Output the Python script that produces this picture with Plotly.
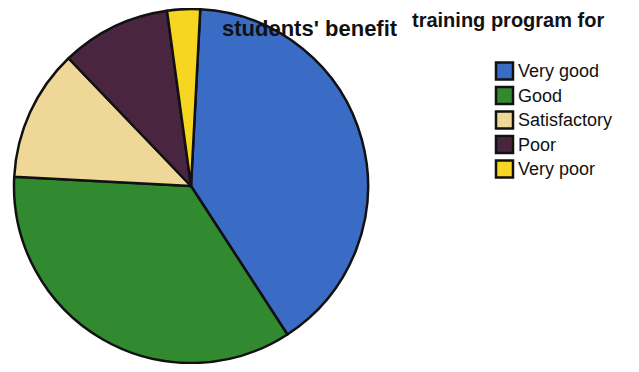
"""Pie chart: rating of the training program for students' benefit."""
import plotly.graph_objects as go

# data
categories = ["Very good", "Good", "Satisfactory", "Poor", "Very poor"]
shares = [40, 35, 12, 10, 3]

COLORS = ["#3a6cc6", "#318a30", "#efd797", "#4a2540", "#f7d622"]
FONT = "Liberation Sans, Arial, sans-serif"

# the page body keeps its default 8px margin, so the figure is drawn
# 8px smaller on each side and positions below are given in window pixels
PAD = 8
W, H = 639 - 2 * PAD, 372 - 2 * PAD


def px_x(x):
    return (x - PAD) / W


def px_y(y):
    return 1 - (y - PAD) / H


# pie placement (window pixels)
cx, cy, r = 191, 186, 177

fig = go.Figure()

fig.add_trace(go.Pie(
    labels=categories,
    values=shares,
    sort=False,
    direction="clockwise",
    rotation=3,
    marker=dict(colors=COLORS, line=dict(color="#111111", width=2.5)),
    textinfo="none",
    hoverinfo="label+percent",
    showlegend=False,
    domain=dict(
        x=[px_x(cx - r), px_x(cx + r)],
        y=[px_y(cy + r), px_y(cy - r)],
    ),
))

# title, two lines as in the printed original
fig.add_annotation(
    text="<b>training program for</b>",
    x=px_x(606), y=px_y(7), xref="paper", yref="paper",
    xanchor="right", yanchor="top", showarrow=False,
    font=dict(family=FONT, size=20, color="#111111"),
)
fig.add_annotation(
    text="<b>students' benefit</b>",
    x=px_x(400), y=px_y(28), xref="paper", yref="paper",
    xanchor="right", yanchor="middle", showarrow=False,
    font=dict(family=FONT, size=22, color="#111111"),
)

# legend drawn by hand so the swatches are the printed size
leg_x, leg_y0, leg_step, sw = 496, 71, 24.5, 17
for i, (name, col) in enumerate(zip(categories, COLORS)):
    yc = leg_y0 + i * leg_step
    fig.add_shape(
        type="rect", xref="paper", yref="paper",
        x0=px_x(leg_x), x1=px_x(leg_x + sw),
        y0=px_y(yc + sw / 2), y1=px_y(yc - sw / 2),
        fillcolor=col, line=dict(color="#111111", width=2.5),
    )
    fig.add_annotation(
        text=name, x=px_x(leg_x + sw + 3), y=px_y(yc),
        xref="paper", yref="paper", xanchor="left", yanchor="middle",
        showarrow=False, font=dict(family=FONT, size=18, color="#111111"),
    )

fig.update_layout(
    width=W, height=H,
    margin=dict(l=0, r=0, t=0, b=0),
    paper_bgcolor="white",
    plot_bgcolor="white",
    showlegend=False,
)

fig.write_html("out.html")
